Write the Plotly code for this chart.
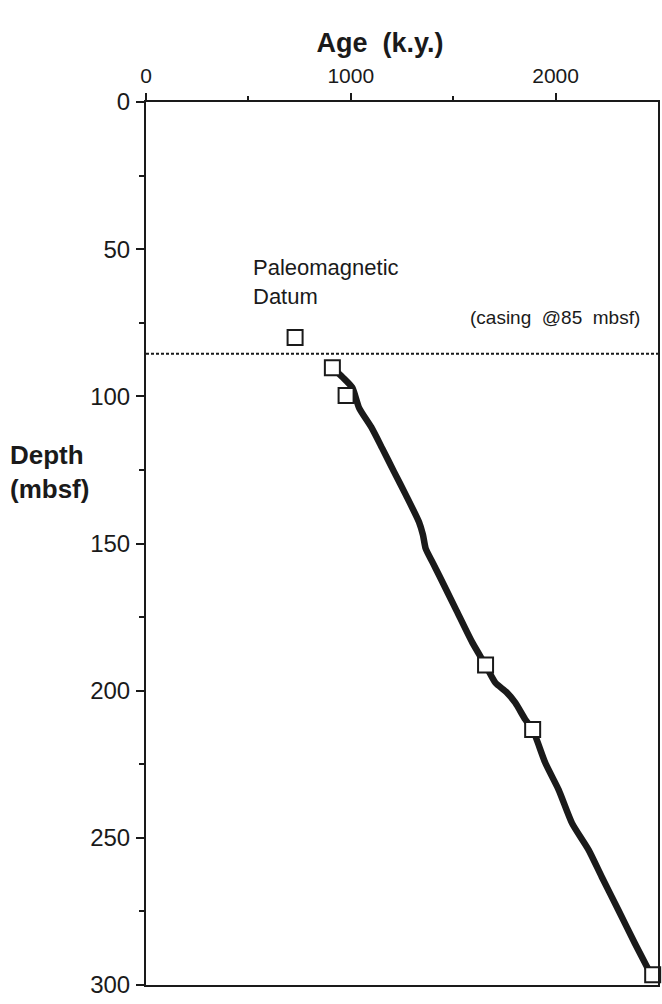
import plotly.graph_objects as go

# Paleomagnetic datum points (age k.y., depth mbsf)
datum_age = [728, 910, 977, 1658, 1888, 2474]
datum_depth = [80, 90.3, 99.7, 191.3, 213.2, 296.5]

# Age-depth curve
curve_age = [930, 960, 1007, 1041, 1100, 1153, 1210, 1268, 1333, 1352, 1366, 1400, 1431, 1512,
             1593, 1658, 1706, 1760, 1803, 1852, 1888, 1950, 2015, 2080, 2161, 2225, 2307, 2388, 2455]
curve_depth = [91.5, 93.5, 97, 104, 110.5, 117.6, 125.5, 133.4, 142.7, 147, 151.8, 156.5, 160.8, 172.2,
               183.6, 191.3, 197.3, 200.5, 204.1, 209.8, 213.2, 224.6, 233.7, 245, 254.1, 263.2, 274.6, 286, 295]

casing_depth = 85.5

FONT = "Liberation Sans, Arial, Helvetica, sans-serif"
INK = "#1a1a1a"

fig = go.Figure()
fig.add_trace(go.Scatter(x=curve_age, y=curve_depth, mode="lines",
                         line=dict(color=INK, width=6.5, shape="spline", smoothing=0.6),
                         hoverinfo="skip", showlegend=False))
fig.add_trace(go.Scatter(x=datum_age, y=datum_depth, mode="markers",
                         marker=dict(symbol="square", size=15, color="white",
                                     line=dict(color=INK, width=2)),
                         showlegend=False, cliponaxis=False))

fig.add_shape(type="line", xref="paper", x0=0, x1=1, yref="y", y0=casing_depth, y1=casing_depth,
              line=dict(color=INK, width=2, dash="3px,2px"))

fig.add_annotation(text="Paleomagnetic<br>Datum", x=515, y=61, xref="x", yref="y",
                   xanchor="left", yanchor="middle", align="left", showarrow=False,
                   font=dict(family=FONT, size=22, color=INK))
fig.add_annotation(text="(casing  @85  mbsf)", x=2420, y=casing_depth, xref="x", yref="y",
                   xanchor="right", yanchor="bottom", yshift=24, showarrow=False,
                   font=dict(family=FONT, size=19, color=INK))
fig.add_annotation(text="<b>Depth<br>(mbsf)</b>", xref="paper", yref="paper",
                   x=-139 / 514, y=1 - (472 - 102) / 883, xanchor="left", yanchor="middle",
                   align="left", showarrow=False,
                   font=dict(family=FONT, size=26, color=INK))

fig.update_layout(
    width=662, height=1004,
    margin=dict(l=146, r=2, t=102, b=19),
    paper_bgcolor="white", plot_bgcolor="white",
    font=dict(family=FONT, color=INK),
    title=dict(text="<b>Age  (k.y.)</b>", x=380 / 662, xanchor="center", y=1 - 43 / 1004,
               yanchor="middle", font=dict(family=FONT, size=27, color=INK)),
    xaxis=dict(side="top", range=[0, 2500], tickmode="array", tickvals=[0, 1000, 2000],
               ticks="outside", ticklen=7, tickwidth=2, tickcolor=INK,
               minor=dict(tickvals=[500, 1500], ticks="outside", ticklen=4, tickwidth=2,
                          tickcolor=INK),
               showline=True, linewidth=2, linecolor=INK, mirror=True,
               showgrid=False, zeroline=False, ticklabelstandoff=2,
               tickfont=dict(family=FONT, size=21, color=INK)),
    yaxis=dict(range=[300, 0], tickmode="array", tickvals=[0, 50, 100, 150, 200, 250, 300],
               ticks="outside", ticklen=8, tickwidth=2, tickcolor=INK,
               minor=dict(tickvals=[25, 75, 125, 175, 225, 275], ticks="outside", ticklen=5,
                          tickwidth=2, tickcolor=INK),
               showline=True, linewidth=2, linecolor=INK, mirror=True,
               showgrid=False, zeroline=False, ticklabelstandoff=1,
               tickfont=dict(family=FONT, size=24, color=INK)),
)

fig.write_html("out.html")
